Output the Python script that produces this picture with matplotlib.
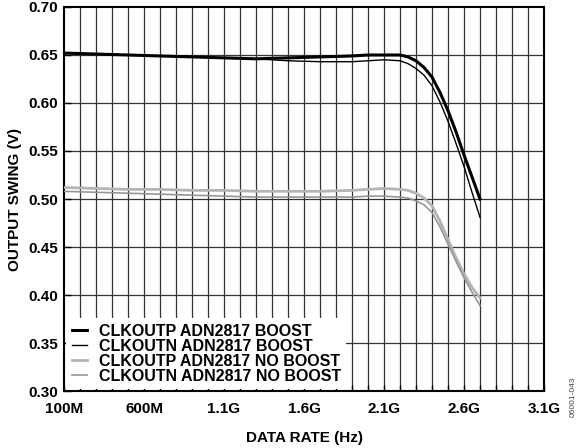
import matplotlib.pyplot as plt
import numpy as np

# data rate in GHz, output swing in volts
rate = [0.1, 0.3, 0.5, 0.7, 0.9, 1.1, 1.3, 1.5, 1.7, 1.9, 2.0, 2.1, 2.2, 2.25, 2.3, 2.35, 2.4,
        2.45, 2.5, 2.55, 2.6, 2.65, 2.7]
clkoutp_boost = [0.652, 0.651, 0.650, 0.649, 0.648, 0.647, 0.646, 0.647, 0.648, 0.649, 0.650, 0.650,
                 0.650, 0.648, 0.644, 0.637, 0.627, 0.611, 0.592, 0.570, 0.546, 0.523, 0.500]
clkoutn_boost = [0.652, 0.651, 0.650, 0.649, 0.648, 0.647, 0.646, 0.644, 0.643, 0.643, 0.644, 0.645,
                 0.644, 0.641, 0.636, 0.629, 0.618, 0.601, 0.581, 0.558, 0.534, 0.507, 0.481]
clkoutp_noboost = [0.512, 0.511, 0.510, 0.510, 0.509, 0.509, 0.508, 0.508, 0.508, 0.509, 0.510, 0.511,
                   0.510, 0.509, 0.506, 0.501, 0.493, 0.477, 0.458, 0.439, 0.422, 0.408, 0.397]
clkoutn_noboost = [0.508, 0.507, 0.506, 0.505, 0.504, 0.503, 0.502, 0.502, 0.502, 0.502, 0.503, 0.503,
                   0.502, 0.501, 0.498, 0.494, 0.486, 0.471, 0.453, 0.435, 0.418, 0.403, 0.389]

xticks = [0.1, 0.6, 1.1, 1.6, 2.1, 2.6, 3.1]
xticklabels = ['100M', '600M', '1.1G', '1.6G', '2.1G', '2.6G', '3.1G']

plt.rcParams['font.family'] = ['Liberation Sans', 'DejaVu Sans']
plt.rcParams['font.weight'] = 'bold'
plt.rcParams['lines.solid_joinstyle'] = 'round'

fig = plt.figure(figsize=(5.84, 4.48), dpi=100)
ax = fig.add_axes([0.1096, 0.1272, 0.8219, 0.8572])

# grid drawn by hand so the legend box can hide it while ticks stay on top
for xv in np.arange(0.2, 3.05, 0.1):
    ax.axvline(xv, color='#333333', lw=0.9, zorder=1)
for yv in np.arange(0.35, 0.70, 0.05):
    ax.axhline(yv, color='#333333', lw=0.9, zorder=1)

ax.plot(rate, clkoutp_boost, color='black', lw=2.2, label='CLKOUTP ADN2817 BOOST', zorder=3)
ax.plot(rate, clkoutn_boost, color='black', lw=1.0, label='CLKOUTN ADN2817 BOOST', zorder=3)
ax.plot(rate, clkoutp_noboost, color='#b4b4b4', lw=2.0, label='CLKOUTP ADN2817 NO BOOST', zorder=3)
ax.plot(rate, clkoutn_noboost, color='#969696', lw=1.2, label='CLKOUTN ADN2817 NO BOOST', zorder=3)

ax.set_xlim(0.1, 3.1)
ax.set_ylim(0.30, 0.70)
ax.set_xticks(xticks)
ax.set_xticklabels(xticklabels)
ax.set_xticks(np.arange(0.1, 3.15, 0.1), minor=True)
ax.set_yticks(np.arange(0.30, 0.701, 0.05))
ax.yaxis.set_major_formatter(plt.FormatStrFormatter('%.2f'))
ax.tick_params(axis='both', which='both', direction='in', labelsize=11, width=1.0, color='black')
ax.tick_params(axis='x', which='both', length=4, pad=8)
ax.tick_params(axis='y', length=5, pad=4)
for s in ax.spines.values():
    s.set_linewidth(1.5)

ax.set_xlabel('DATA RATE (Hz)', fontsize=11, fontweight='bold', labelpad=11)
ax.set_ylabel('OUTPUT SWING (V)', fontsize=11, fontweight='bold', labelpad=5)

leg = ax.legend(loc='lower left', frameon=True, fancybox=False, framealpha=1,
                facecolor='white', edgecolor='none', fontsize=11.5,
                handlelength=1.0, handletextpad=0.7, labelspacing=0.0,
                borderpad=0.35, borderaxespad=0.12)
leg.set_zorder(2)
for t in leg.get_texts():
    t.set_fontweight('bold')

fig.text(0.982, 0.07, '06001-043', rotation=90, fontsize=6, fontweight='normal',
         color='#444444', ha='center', va='bottom')

plt.savefig('out.png', dpi=100)
